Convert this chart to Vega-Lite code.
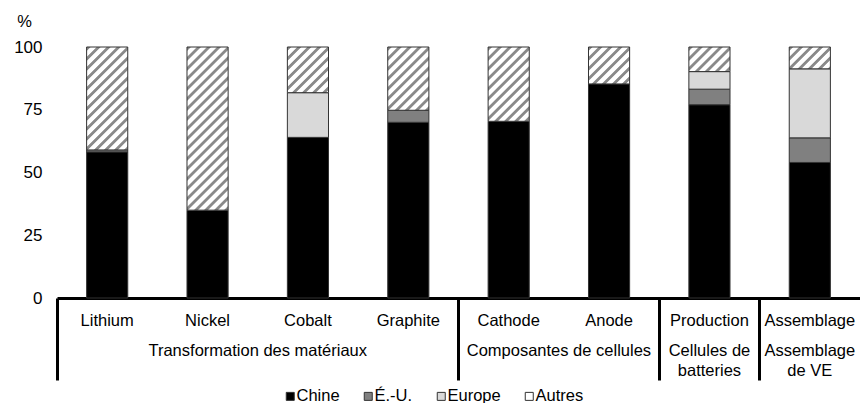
{
  "$schema": "https://vega.github.io/schema/vega-lite/v6.json",
  "autosize": {"type": "none"},
  "width": 803,
  "height": 251,
  "padding": {"left": 57, "top": 47, "right": 0, "bottom": 105},
  "background": "#ffffff",
  "params": [
    {
      "name": "hatch",
      "value": [
        {"offset": 0, "color": "#8a8a8a"}, {"offset": 0.0161, "color": "#8a8a8a"}, {"offset": 0.0221, "color": "#ffffff"},
        {"offset": 0.0446, "color": "#ffffff"}, {"offset": 0.0506, "color": "#8a8a8a"}, {"offset": 0.0637, "color": "#8a8a8a"}, {"offset": 0.0697, "color": "#ffffff"},
        {"offset": 0.0922, "color": "#ffffff"}, {"offset": 0.0982, "color": "#8a8a8a"}, {"offset": 0.1113, "color": "#8a8a8a"}, {"offset": 0.1173, "color": "#ffffff"},
        {"offset": 0.1399, "color": "#ffffff"}, {"offset": 0.1459, "color": "#8a8a8a"}, {"offset": 0.1589, "color": "#8a8a8a"}, {"offset": 0.1649, "color": "#ffffff"},
        {"offset": 0.1875, "color": "#ffffff"}, {"offset": 0.1935, "color": "#8a8a8a"}, {"offset": 0.2065, "color": "#8a8a8a"}, {"offset": 0.2125, "color": "#ffffff"},
        {"offset": 0.2351, "color": "#ffffff"}, {"offset": 0.2411, "color": "#8a8a8a"}, {"offset": 0.2541, "color": "#8a8a8a"}, {"offset": 0.2601, "color": "#ffffff"},
        {"offset": 0.2827, "color": "#ffffff"}, {"offset": 0.2887, "color": "#8a8a8a"}, {"offset": 0.3018, "color": "#8a8a8a"}, {"offset": 0.3078, "color": "#ffffff"},
        {"offset": 0.3303, "color": "#ffffff"}, {"offset": 0.3363, "color": "#8a8a8a"}, {"offset": 0.3494, "color": "#8a8a8a"}, {"offset": 0.3554, "color": "#ffffff"},
        {"offset": 0.3780, "color": "#ffffff"}, {"offset": 0.3840, "color": "#8a8a8a"}, {"offset": 0.3970, "color": "#8a8a8a"}, {"offset": 0.4030, "color": "#ffffff"},
        {"offset": 0.4256, "color": "#ffffff"}, {"offset": 0.4316, "color": "#8a8a8a"}, {"offset": 0.4446, "color": "#8a8a8a"}, {"offset": 0.4506, "color": "#ffffff"},
        {"offset": 0.4732, "color": "#ffffff"}, {"offset": 0.4792, "color": "#8a8a8a"}, {"offset": 0.4922, "color": "#8a8a8a"}, {"offset": 0.4982, "color": "#ffffff"},
        {"offset": 0.5208, "color": "#ffffff"}, {"offset": 0.5268, "color": "#8a8a8a"}, {"offset": 0.5399, "color": "#8a8a8a"}, {"offset": 0.5459, "color": "#ffffff"},
        {"offset": 0.5684, "color": "#ffffff"}, {"offset": 0.5744, "color": "#8a8a8a"}, {"offset": 0.5875, "color": "#8a8a8a"}, {"offset": 0.5935, "color": "#ffffff"},
        {"offset": 0.6161, "color": "#ffffff"}, {"offset": 0.6221, "color": "#8a8a8a"}, {"offset": 0.6351, "color": "#8a8a8a"}, {"offset": 0.6411, "color": "#ffffff"},
        {"offset": 0.6637, "color": "#ffffff"}, {"offset": 0.6697, "color": "#8a8a8a"}, {"offset": 0.6827, "color": "#8a8a8a"}, {"offset": 0.6887, "color": "#ffffff"},
        {"offset": 0.7113, "color": "#ffffff"}, {"offset": 0.7173, "color": "#8a8a8a"}, {"offset": 0.7303, "color": "#8a8a8a"}, {"offset": 0.7363, "color": "#ffffff"},
        {"offset": 0.7589, "color": "#ffffff"}, {"offset": 0.7649, "color": "#8a8a8a"}, {"offset": 0.7780, "color": "#8a8a8a"}, {"offset": 0.7840, "color": "#ffffff"},
        {"offset": 0.8065, "color": "#ffffff"}, {"offset": 0.8125, "color": "#8a8a8a"}, {"offset": 0.8256, "color": "#8a8a8a"}, {"offset": 0.8316, "color": "#ffffff"},
        {"offset": 0.8541, "color": "#ffffff"}, {"offset": 0.8601, "color": "#8a8a8a"}, {"offset": 0.8732, "color": "#8a8a8a"}, {"offset": 0.8792, "color": "#ffffff"},
        {"offset": 0.9018, "color": "#ffffff"}, {"offset": 0.9078, "color": "#8a8a8a"}, {"offset": 0.9208, "color": "#8a8a8a"}, {"offset": 0.9268, "color": "#ffffff"},
        {"offset": 0.9494, "color": "#ffffff"}, {"offset": 0.9554, "color": "#8a8a8a"}, {"offset": 0.9684, "color": "#8a8a8a"}, {"offset": 0.9744, "color": "#ffffff"},
        {"offset": 1, "color": "#ffffff"}
      ]
    }
  ],
  "data": {
    "values": [
      {"item": "Lithium", "region": "Chine", "share": 58.2},
      {"item": "Lithium", "region": "É.-U.", "share": 0.8},
      {"item": "Lithium", "region": "Autres", "share": 41},
      {"item": "Nickel", "region": "Chine", "share": 35},
      {"item": "Nickel", "region": "Autres", "share": 65},
      {"item": "Cobalt", "region": "Chine", "share": 64},
      {"item": "Cobalt", "region": "Europe", "share": 17.8},
      {"item": "Cobalt", "region": "Autres", "share": 18.2},
      {"item": "Graphite", "region": "Chine", "share": 70},
      {"item": "Graphite", "region": "É.-U.", "share": 4.8},
      {"item": "Graphite", "region": "Autres", "share": 25.2},
      {"item": "Cathode", "region": "Chine", "share": 70.4},
      {"item": "Cathode", "region": "Autres", "share": 29.6},
      {"item": "Anode", "region": "Chine", "share": 85.3},
      {"item": "Anode", "region": "Autres", "share": 14.7},
      {"item": "Production", "region": "Chine", "share": 77},
      {"item": "Production", "region": "É.-U.", "share": 6.2},
      {"item": "Production", "region": "Europe", "share": 7},
      {"item": "Production", "region": "Autres", "share": 9.8},
      {"item": "Assemblage", "region": "Chine", "share": 54},
      {"item": "Assemblage", "region": "É.-U.", "share": 9.8},
      {"item": "Assemblage", "region": "Europe", "share": 27.5},
      {"item": "Assemblage", "region": "Autres", "share": 8.7}
    ]
  },
  "layer": [
    {
      "transform": [
        {"calculate": "indexof(['Chine','É.-U.','Europe','Autres'], datum.region)", "as": "ord"}
      ],
      "mark": {"type": "bar", "width": {"band": 0.41}, "stroke": "#333333", "strokeWidth": 1},
      "encoding": {
        "x": {
          "field": "item", "type": "nominal", "sort": null,
          "scale": {"type": "band", "domain": ["Lithium", "Nickel", "Cobalt", "Graphite", "Cathode", "Anode", "Production", "Assemblage"], "paddingInner": 0, "paddingOuter": 0},
          "axis": {
            "orient": "bottom", "title": null, "grid": false,
            "domain": true, "domainColor": "#000000", "domainWidth": 3,
            "ticks": false, "tickSize": 0,
            "labelAngle": 0, "labelFontSize": 16.5, "labelColor": "#000000",
            "labelBaseline": "alphabetic", "labelPadding": 27, "labelOverlap": false, "labelLimit": 400
          }
        },
        "y": {
          "field": "share", "type": "quantitative", "stack": "zero",
          "scale": {"domain": [0, 100], "nice": false},
          "axis": {
            "title": "%", "titleAngle": 0, "titleX": -33, "titleY": -26, "titleAlign": "center", "titleBaseline": "middle",
            "titleFontWeight": "normal", "titleFontSize": 16.5, "titleColor": "#000000",
            "values": [0, 25, 50, 75, 100], "grid": false, "domain": false, "ticks": false, "tickSize": 0,
            "labelPadding": 15, "labelFontSize": 17, "labelColor": "#000000"
          }
        },
        "fill": {
          "field": "region", "type": "nominal",
          "scale": {"domain": ["Chine", "É.-U.", "Europe", "Autres"], "range": ["#000000", "#808080", "#d9d9d9", "#ffffff"]},
          "condition": {
            "test": "datum.region === 'Autres'",
            "value": {"expr": "{gradient: 'linear', x1: 0, y1: 0, x2: 8610 / (1681 + pow(2.51 * datum.share, 2)), y2: 527.1 * datum.share / (1681 + pow(2.51 * datum.share, 2)), stops: hatch}"}
          },
          "legend": {
            "orient": "none", "legendX": 225, "legendY": 341, "direction": "horizontal", "title": null,
            "symbolType": "square", "symbolSize": 64, "symbolStrokeColor": "#333333", "symbolStrokeWidth": 1,
            "labelFontSize": 16.5, "labelColor": "#000000", "labelOffset": -2, "columnPadding": 20, "padding": 0
          }
        },
        "order": {"field": "ord", "type": "quantitative", "sort": "ascending"}
      }
    },
    {
      "mark": {"type": "point", "opacity": 0},
      "encoding": {
        "x": {
          "field": "item", "type": "nominal", "sort": null,
          "scale": {"type": "band", "domain": ["Lithium", "Nickel", "Cobalt", "Graphite", "Cathode", "Anode", "Production", "Assemblage"], "paddingInner": 0, "paddingOuter": 0},
          "axis": {
            "orient": "bottom", "title": null, "grid": false, "domain": false, "labels": false,
            "values": ["Lithium", "Cathode", "Production", "Assemblage"], "bandPosition": 0,
            "ticks": true, "tickSize": 82, "tickWidth": 3, "tickColor": "#000000"
          }
        }
      }
    },
    {
      "mark": {"type": "point", "opacity": 0},
      "encoding": {
        "x": {
          "field": "item", "type": "nominal", "sort": null,
          "scale": {"type": "band", "domain": ["Lithium", "Nickel", "Cobalt", "Graphite", "Cathode", "Anode", "Production", "Assemblage"], "paddingInner": 0, "paddingOuter": 0},
          "axis": {
            "orient": "bottom", "title": null, "grid": false, "domain": false, "ticks": false, "tickSize": 0,
            "values": ["Nickel", "Cathode", "Production", "Assemblage"], "bandPosition": 0.5,
            "labelExpr": "datum.value === 'Nickel' ? 'Transformation des matériaux' : datum.value === 'Cathode' ? 'Composantes de cellules' : datum.value === 'Production' ? ['Cellules de', 'batteries'] : ['Assemblage', 'de VE']",
            "labelOffset": {"condition": {"test": "datum.value === 'Nickel' || datum.value === 'Cathode'", "value": 50.2}, "value": 0},
            "labelAngle": 0, "labelFontSize": 16.5, "labelColor": "#000000", "labelBaseline": "alphabetic",
            "labelPadding": 57.5, "labelLineHeight": 19.5, "labelOverlap": false, "labelLimit": 400
          }
        }
      }
    }
  ],
  "resolve": {"axis": {"x": "independent"}},
  "config": {
    "view": {"stroke": null},
    "font": "Liberation Sans",
    "axis": {"labelFont": "Liberation Sans", "titleFont": "Liberation Sans"},
    "legend": {"labelFont": "Liberation Sans"}
  }
}
